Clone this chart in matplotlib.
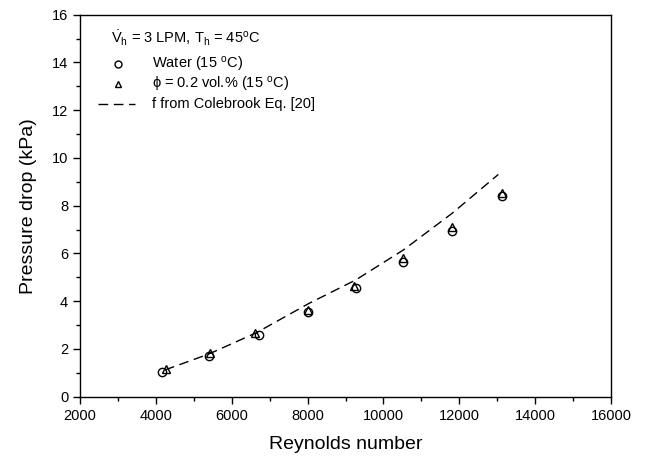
import numpy as np
import matplotlib
matplotlib.use("Agg")
from matplotlib import pyplot as plt
from matplotlib.ticker import MultipleLocator

plt.rcParams['font.family'] = ['Liberation Sans', 'DejaVu Sans']
plt.rcParams['mathtext.fontset'] = 'custom'
plt.rcParams['mathtext.rm'] = 'Liberation Sans'
plt.rcParams['mathtext.it'] = 'Liberation Sans'

# data
re_water = [4150, 5410, 6720, 8000, 9270, 10520, 11810, 13130]
dp_water = [1.05, 1.70, 2.58, 3.53, 4.56, 5.65, 6.95, 8.41]
re_nf = [4270, 5420, 6610, 8020, 9230, 10510, 11810, 13130]
dp_nf = [1.15, 1.84, 2.68, 3.63, 4.64, 5.80, 7.09, 8.55]
re_cb = [4240, 5400, 6650, 8040, 9270, 10520, 11810, 13030]
dp_cb = [1.12, 1.79, 2.68, 3.91, 4.89, 6.14, 7.68, 9.31]

fig = plt.figure(figsize=(6.5, 4.61), dpi=100)
ax = fig.add_axes([80/650, 1 - 396.7/461, (611-80)/650, (396.7-14.7)/461])

ax.plot(re_water, dp_water, 'o', ms=6, mfc='none', mec='black', mew=1.0)
ax.plot(re_nf, dp_nf, '^', ms=5.5, mfc='none', mec='black', mew=1.0)
ax.plot(re_cb, dp_cb, color='black', lw=1.0, dashes=(7, 4))

ax.set_xlim(2000, 16000)
ax.set_ylim(0, 16)
ax.xaxis.set_major_locator(MultipleLocator(2000))
ax.xaxis.set_minor_locator(MultipleLocator(1000))
ax.yaxis.set_major_locator(MultipleLocator(2))
ax.yaxis.set_minor_locator(MultipleLocator(1))
ax.tick_params(which='both', direction='out', top=False, right=False,
               labelsize=10.5, width=1.0, colors='black')
ax.tick_params(which='major', length=5)
ax.tick_params(which='minor', length=3)
for s in ax.spines.values():
    s.set_linewidth(1.0)

ax.set_xlabel('Reynolds number', fontsize=14, labelpad=10)
ax.set_ylabel('Pressure drop (kPa)', fontsize=14, labelpad=11)

# legend drawn by hand, like the original
tr = ax.transAxes
def ax_xy(px, py):
    return ((px - 80) / 531, (396.7 - py) / 382)

x0, y0 = ax_xy(111, 38)
ax.text(x0, y0, r'$\mathrm{\dot{V}_h}$ = 3 LPM, T$_\mathrm{h}$ = 45$^\mathrm{o}$C',
        transform=tr, fontsize=10.5, va='center')
mx, my = ax_xy(118, 64)
ax.plot([mx], [my], 'o', ms=5, mfc='none', mec='black', mew=1.0, transform=tr)
tx, _ = ax_xy(152, 64)
ax.text(tx, my, r'Water (15 $^\mathrm{o}$C)', transform=tr, fontsize=10.5, va='center')
mx, my = ax_xy(118, 84)
ax.plot([mx], [my], '^', ms=4.5, mfc='none', mec='black', mew=1.0, transform=tr)
ax.text(tx, my, r'$\mathrm{\phi}$ = 0.2 vol.% (15 $^\mathrm{o}$C)', transform=tr,
        fontsize=10.5, va='center')
lx1, ly = ax_xy(98, 104)
lx2, _ = ax_xy(135, 104)
ax.plot([lx1, lx2], [ly, ly], color='black', lw=1.0, dashes=(7, 4), transform=tr)
ax.text(tx, ly, 'f from Colebrook Eq. [20]', transform=tr, fontsize=10.5, va='center')

fig.savefig('out.png', dpi=100)
